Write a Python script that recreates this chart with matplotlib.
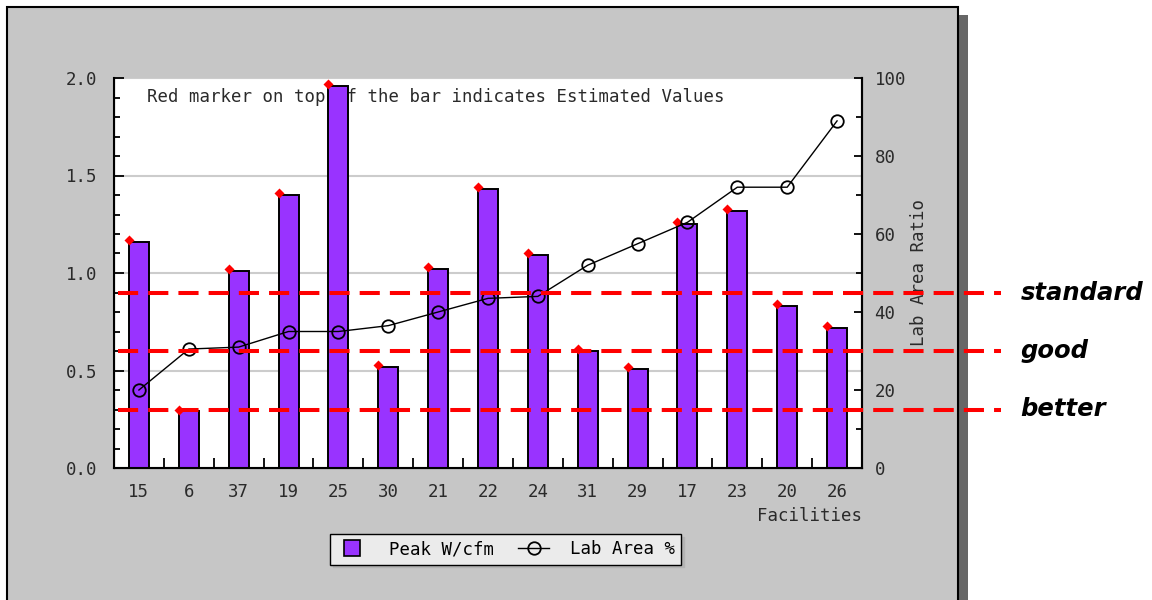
import numpy as np
import matplotlib
matplotlib.use("Agg")
import matplotlib.pyplot as plt
from matplotlib.patches import Rectangle
from matplotlib.lines import Line2D
from matplotlib.ticker import MultipleLocator, FixedLocator, FormatStrFormatter
from matplotlib.transforms import blended_transform_factory

# data
facilities = ["15", "6", "37", "19", "25", "30", "21", "22", "24", "31", "29", "17", "23", "20", "26"]
peak_w_cfm = [1.16, 0.29, 1.01, 1.40, 1.96, 0.52, 1.02, 1.43, 1.09, 0.60, 0.51, 1.25, 1.32, 0.83, 0.72]
lab_area_pct = [20, 30.5, 31, 35, 35, 36.5, 40, 43.5, 44, 52, 57.5, 63, 72, 72, 89]
estimated = [True] * 15
levels = [0.9, 0.6, 0.3]
level_names = ["standard", "good", "better"]

mono = "DejaVu Sans Mono"
txt = "#2a2a2a"
purple = "#9933ff"
fs = 12.5

fig = plt.figure(figsize=(11.52, 6.0), dpi=100)
fig.patch.set_facecolor("white")

# grey panel with dark shadow on the right
fig.patches.append(Rectangle((958 / 1152, 0), 10 / 1152, 585 / 600, transform=fig.transFigure,
                             facecolor="#676767", edgecolor="none", zorder=-2))
fig.patches.append(Rectangle((7 / 1152, -0.01), 951 / 1152, 593 / 600 + 0.01, transform=fig.transFigure,
                             facecolor="#c6c6c6", edgecolor="black", linewidth=1.5, zorder=-1))

ax = fig.add_axes([114 / 1152, 132 / 600, 748 / 1152, 390 / 600])
ax.set_facecolor("white")
x = np.arange(len(facilities))
peak = np.array(peak_w_cfm)
est = np.array(estimated)

ax.bar(x, peak, width=0.4, color=purple, edgecolor="black", linewidth=1.4, zorder=2)
ax.plot(x[est] - 0.2, peak[est] + 0.01, "D", color="red", ms=5.5, mec="none", zorder=3, clip_on=False)

ax.set_xlim(-0.5, len(facilities) - 0.5)
ax.set_ylim(0, 2)
ax.set_xticks(x, facilities)
ax.xaxis.set_minor_locator(FixedLocator(np.arange(0.5, len(facilities) - 1, 1)))
ax.yaxis.set_major_locator(MultipleLocator(0.5))
ax.yaxis.set_minor_locator(MultipleLocator(0.1))
ax.yaxis.set_major_formatter(FormatStrFormatter("%.1f"))
ax.tick_params(axis="x", which="major", length=0, pad=11, labelsize=fs, labelcolor=txt)
ax.tick_params(axis="x", which="minor", direction="in", length=7, width=1.3)
ax.tick_params(axis="y", which="major", direction="in", length=7, width=1.3, pad=12, labelsize=fs, labelcolor=txt)
ax.tick_params(axis="y", which="minor", direction="in", length=4.5, width=1.3)
for lab in ax.get_xticklabels() + ax.get_yticklabels():
    lab.set_family(mono)
for yv in ax.get_yticks()[1:-1]:
    ax.axhline(yv, color="#cccccc", linewidth=1.5, zorder=1)
ax.spines["top"].set_visible(False)
for s in ["left", "bottom", "right"]:
    ax.spines[s].set_linewidth(1.5)

ax.text(0.044, 0.951, "Red marker on top of the bar indicates Estimated Values", transform=ax.transAxes,
        fontsize=fs, family=mono, color=txt, va="center", ha="left", zorder=1)
ax.set_xlabel("Facilities", loc="right", fontsize=fs, family=mono, color=txt, labelpad=4)

ax2 = ax.twinx()
ax2.plot(x, lab_area_pct, color="black", linewidth=1, marker="o", ms=9, mfc="none", mec="black", mew=1.3, zorder=3)
ax2.set_ylim(0, 100)
ax2.yaxis.set_major_locator(MultipleLocator(20))
ax2.yaxis.set_minor_locator(MultipleLocator(10))
ax2.tick_params(axis="y", which="major", direction="in", length=6, width=1.3, pad=9, labelsize=fs, labelcolor=txt)
ax2.tick_params(axis="y", which="minor", direction="in", length=4, width=1.3)
for lab in ax2.get_yticklabels():
    lab.set_family(mono)
ax2.spines["top"].set_visible(False)
ax2.spines["right"].set_linewidth(1.5)
ax2.set_ylabel("Lab Area Ratio", fontsize=fs, family=mono, color=txt, labelpad=3)

# threshold lines running out past the panel
trans = blended_transform_factory(ax2.transAxes, ax.transData)
for lvl, name in zip(levels, level_names):
    ax2.plot([0.005, 1.186], [lvl, lvl], transform=trans, color="red", linewidth=2.9,
             dashes=(5, 2.5), clip_on=False, zorder=5)
    ax2.text(1.212, lvl, name, transform=trans, fontsize=17.5, fontweight="bold", fontstyle="italic",
             family="DejaVu Sans", va="center", ha="left", clip_on=False)
ax2.set_xlim(-0.5, len(facilities) - 0.5)
ax2.set_ylim(0, 100)

handles = [Line2D([], [], linestyle="none", marker="s", ms=12, mfc=purple, mec="black", mew=1.2),
           Line2D([], [], color="black", linewidth=1, marker="o", ms=9, mfc="none", mec="black", mew=1.3)]
fig.legend(handles, ["Peak W/cfm", "Lab Area %"], loc="center", bbox_to_anchor=(0.439, 0.0842), ncol=2,
           frameon=True, fancybox=False, shadow={"color": "#b4b4b4", "alpha": 1}, edgecolor="black",
           facecolor="#ebebeb", framealpha=1, prop={"family": mono, "size": fs},
           handlelength=1.8, columnspacing=1.4, borderpad=0.35, handletextpad=1.2)

fig.savefig("out.png", dpi=100)
